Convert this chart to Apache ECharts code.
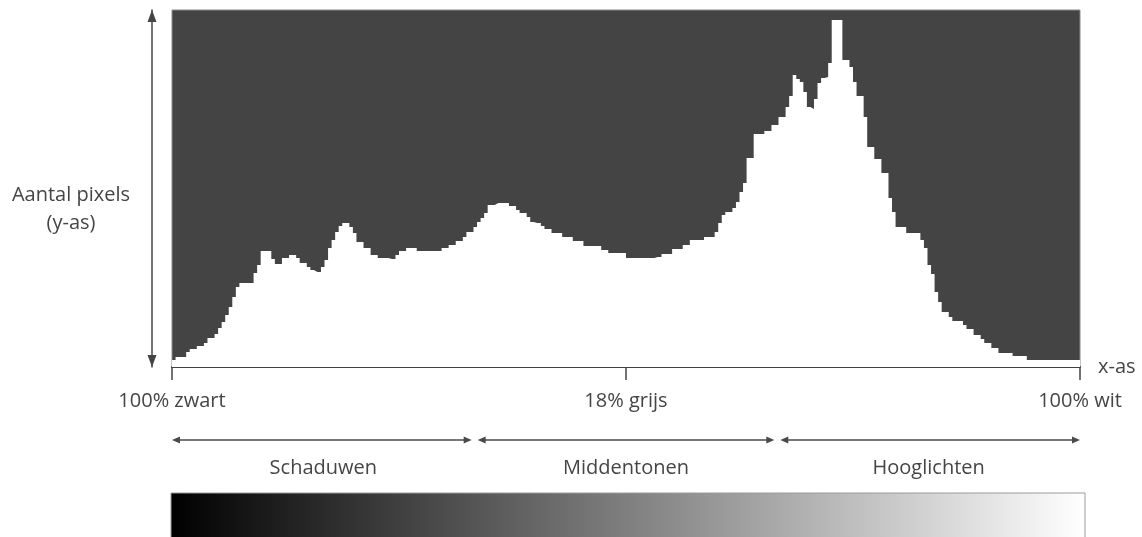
<!DOCTYPE html>
<html>
<head>
<meta charset="utf-8">
<script src="https://cdn.jsdelivr.net/npm/echarts@6/dist/echarts.min.js"></script>
<style>
  html, body { margin: 0; padding: 0; background: #ffffff; }
  #chart { width: 1142px; height: 537px; }
</style>
</head>
<body>
<div id="chart"></div>
<script>
// Pixel counts per tonal level (0 = black, 255 = white)
const counts = [
  7,10,10,10,15,18,18,21,21,24,
  29,29,33,39,45,52,60,70,80,84,
  84,84,84,94,102,116,116,116,108,103,
  103,109,109,112,112,109,104,104,100,97,
  95,95,100,107,119,127,135,141,144,144,
  140,134,125,125,119,119,112,112,109,109,
  109,108,108,112,116,116,119,119,119,116,
  116,116,116,116,116,116,119,119,122,122,
  126,126,130,135,135,140,145,149,154,162,
  162,164,164,164,164,161,161,157,154,154,
  150,145,144,144,141,138,138,134,134,134,
  130,130,130,126,126,126,121,121,121,121,
  121,117,117,114,114,114,114,114,109,109,
  109,109,109,109,109,109,110,110,113,113,
  113,118,118,118,122,122,127,127,127,127,
  130,130,130,135,144,152,155,155,159,165,
  175,184,209,209,233,233,233,236,236,242,
  242,250,250,260,271,292,288,285,275,260,
  258,268,284,289,290,304,347,347,347,307,
  307,300,285,271,271,250,220,220,208,208,
  194,194,169,155,140,140,140,134,134,134,
  134,127,119,102,93,75,65,55,55,50,
  46,46,46,42,38,38,32,32,28,24,
  24,19,19,14,14,14,14,11,11,11,
  11,7,7,7,7,7,7,7,7,7,
  7,7,7,7,7,7
];
const tickValues = [0, 128, 256];
const tickLabels = ['100% zwart', '18% grijs', '100% wit'];
const zoneBounds = [0, 256 / 3, 512 / 3, 256];
const zoneLabels = ['Schaduwen', 'Middentonen', 'Hooglichten'];
const yAxisTitle = 'Aantal pixels\n(y-as)';
const xAxisTitle = 'x-as';
const yMax = 357;

const FONT = '"Open Sans", sans-serif';
const TXT = '#454545';
const FS = 20;

const chart = echarts.init(document.getElementById('chart'), null, { renderer: 'canvas' });

const stepData = counts.map((v, i) => [i, v]);
stepData.push([counts.length, counts[counts.length - 1]]);

chart.setOption({
  animation: false,
  backgroundColor: '#ffffff',
  grid: {
    left: 172, right: 62, top: 10, bottom: 170,
    show: true, backgroundColor: '#444444', borderColor: '#8a8a8a', borderWidth: 1
  },
  xAxis: {
    type: 'value', min: 0, max: 256, interval: 128,
    name: xAxisTitle, nameLocation: 'end', nameGap: 18,
    nameTextStyle: { color: TXT, fontSize: FS, fontFamily: FONT },
    axisLine: { show: true, onZero: false, lineStyle: { color: '#444', width: 2 } },
    axisTick: { show: true, length: 13, lineStyle: { color: '#444', width: 1.5 } },
    axisLabel: {
      show: true, margin: 24, color: TXT, fontSize: FS, fontFamily: FONT,
      formatter: v => { const k = tickValues.indexOf(v); return k >= 0 ? tickLabels[k] : ''; }
    },
    splitLine: { show: false }
  },
  yAxis: {
    type: 'value', min: 0, max: yMax, position: 'left', offset: 20,
    axisLine: { show: true, onZero: false, symbol: ['triangle', 'triangle'], symbolSize: [9, 12], symbolOffset: [6, -6], lineStyle: { color: '#444', width: 1.5 } },
    axisTick: { show: false }, axisLabel: { show: false }, splitLine: { show: false }
  },
  series: [{
    type: 'line', step: 'end', data: stepData, symbol: 'none',
    lineStyle: { width: 0 }, areaStyle: { color: '#ffffff', opacity: 1 }
  }]
});

const px = v => chart.convertToPixel({ xAxisIndex: 0 }, v);
const graphics = [];
const arrowY = 440;
const col = '#4a4a4a';
for (let k = 0; k < 3; k++) {
  const x1 = px(zoneBounds[k]) + (k > 0 ? 3 : 0);
  const x2 = px(zoneBounds[k + 1]) - (k < 2 ? 3 : 0);
  graphics.push({ type: 'line', shape: { x1: x1 + 4, y1: arrowY, x2: x2 - 4, y2: arrowY }, style: { stroke: col, lineWidth: 1.5 } });
  graphics.push({ type: 'polygon', shape: { points: [[x1, arrowY], [x1 + 8, arrowY - 3.5], [x1 + 8, arrowY + 3.5]] }, style: { fill: col } });
  graphics.push({ type: 'polygon', shape: { points: [[x2, arrowY], [x2 - 8, arrowY - 3.5], [x2 - 8, arrowY + 3.5]] }, style: { fill: col } });
  const cx = px((zoneBounds[k] + zoneBounds[k + 1]) / 2);
  graphics.push({ type: 'text', x: cx, y: 468, style: { text: zoneLabels[k], fill: TXT, font: FS + 'px ' + FONT, textAlign: 'center', textVerticalAlign: 'middle' } });
}
graphics.push({
  type: 'text', x: 71, y: 209,
  style: { text: yAxisTitle, fill: TXT, font: FS + 'px ' + FONT, textAlign: 'center', textVerticalAlign: 'middle', lineHeight: 28 }
});
graphics.push({
  type: 'rect', shape: { x: px(0) - 1, y: 493, width: px(256) - px(0) + 6, height: 60 },
  style: {
    fill: new echarts.graphic.LinearGradient(0, 0, 1, 0, [
      { offset: 0, color: '#000000' }, { offset: 1, color: '#ffffff' }
    ]),
    stroke: '#9a9a9a', lineWidth: 1
  }
});
chart.setOption({ graphic: graphics });
</script>
</body>
</html>
